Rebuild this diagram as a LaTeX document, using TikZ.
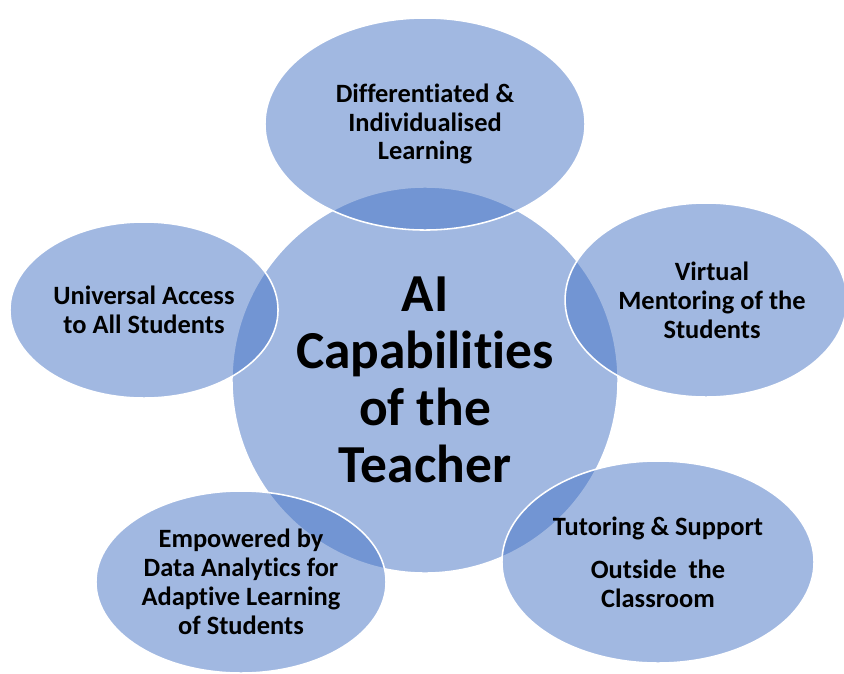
\documentclass[tikz,border=0pt]{standalone}
\usepackage{fontspec}
\setmainfont[Ligatures=NoCommon]{Carlito}
\usetikzlibrary{shapes.geometric}
\definecolor{bubbleblue}{HTML}{4472C4}

\begin{document}
\begin{tikzpicture}[x=0.025cm, y=-0.025cm,
        bubble/.style={ellipse, fill=bubbleblue, fill opacity=0.5, text opacity=1,
            draw=white, line width=1.1pt, inner sep=0pt, align=center,
            font=\bfseries\fontsize{18.8}{20.5}\selectfont}]
        \useasboundingbox (0, 0) rectangle (844, 673);

        % centre
        \node[bubble, circle, minimum size=9.65cm, font=\bfseries\fontsize{38}{40.5}\selectfont]
            (teacher) at (425, 380) {AI\\Capabilities\\of the\\Teacher};

        % capabilities round it
        \node[bubble, minimum width=8cm, minimum height=5.3cm]
            (individual) at (425, 124) {Differentiated \&\\Individualised\\Learning};
        \node[bubble, minimum width=6.7cm, minimum height=4.4cm]
            (access) at (144, 310) {Universal Access\\to All Students};
        \node[bubble, minimum width=6.9cm, minimum height=4.85cm]
            (mentoring) at (706, 300) {\hspace*{0.3cm}Virtual\\\hspace*{0.3cm}Mentoring of the\\\hspace*{0.3cm}Students};
        \node[bubble, minimum width=7.8cm, minimum height=5.05cm]
            (tutoring) at (658, 562) {Tutoring \& Support\\[10pt]Outside\ \ the\\Classroom};
        \node[bubble, minimum width=7.25cm, minimum height=4.55cm]
            (analytics) at (241, 582) {Empowered by\\Data Analytics for\\Adaptive Learning\\of Students};
    \end{tikzpicture}
\end{document}
